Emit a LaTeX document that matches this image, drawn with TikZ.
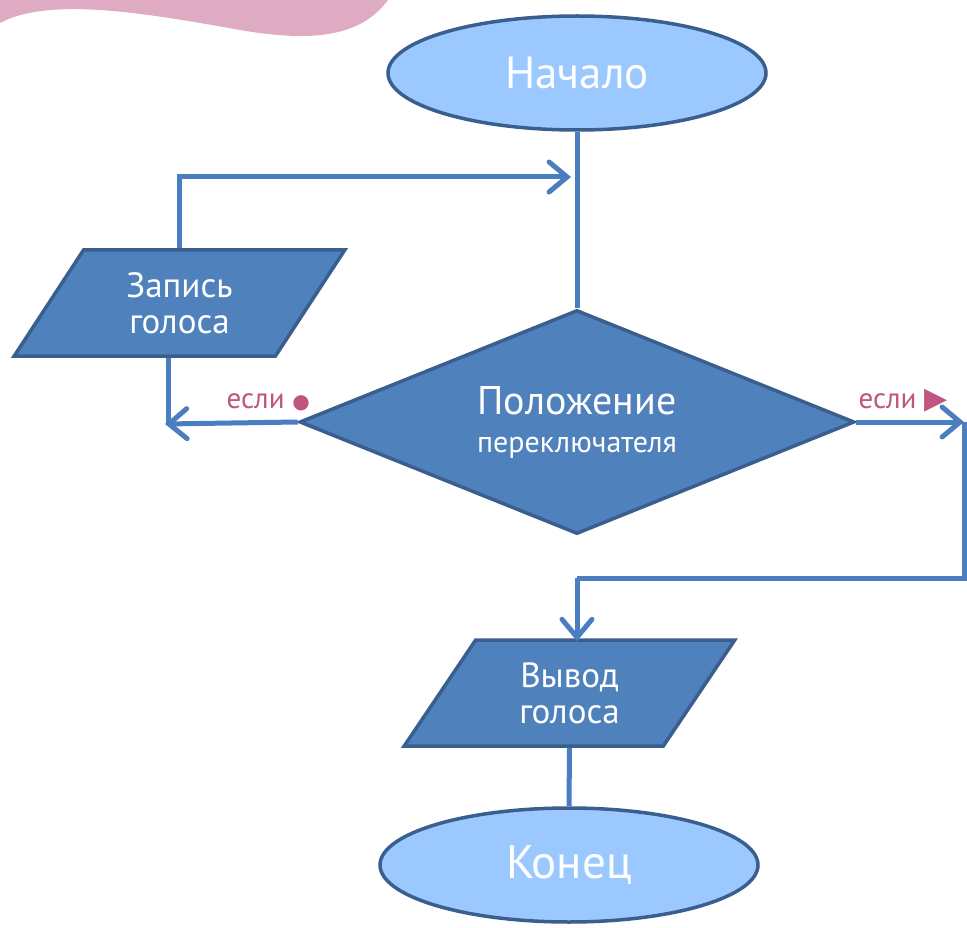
\documentclass[tikz,border=0pt]{standalone}
\usepackage{fontspec}
\setmainfont{PT Sans}
\newfontfamily\symfont{DejaVu Sans}
\usepackage{tikz}
\usetikzlibrary{calc, positioning, arrows.meta, shapes.geometric}
\usepackage{xcolor}
\definecolor{flowlight}{RGB}{155,201,255}
\definecolor{flowdark}{RGB}{79,129,189}
\definecolor{flowedge}{RGB}{58,95,142}
\definecolor{flowline}{RGB}{74,126,192}
\definecolor{flowpink}{RGB}{223,171,194}
\definecolor{flowlabel}{RGB}{192,85,127}
\tikzset{
    termbox/.style={ellipse, draw=flowedge, line width=3.5pt, fill=flowlight, minimum width=378pt, minimum height=114pt, inner sep=0pt, text=white},
    iobox/.style={trapezium, trapezium left angle=58, trapezium right angle=122, trapezium stretches=true, draw=flowedge, line width=3.5pt, fill=flowdark, minimum width=331pt, minimum height=106pt, inner sep=0pt, align=center, text=white, font=\fontsize{35}{36}\selectfont},
    decisionbox/.style={diamond, draw=flowedge, line width=3.5pt, fill=flowdark, minimum width=555pt, minimum height=224pt, inner sep=0pt, aspect=2.5, align=center, text=white},
    connector/.style={line width=5pt, draw=flowline},
    flowarrow/.style={-{Straight Barb[length=18pt, width=30pt, line cap=round]}, line width=5pt, draw=flowline},
    note/.style={text=flowlabel, font=\fontsize{29}{30}\selectfont, inner sep=0pt}
}
\begin{document}
\begin{tikzpicture}[x=1pt,y=-1pt]
            \useasboundingbox (0,0) rectangle (967,928);
            % decoration in the corner
            \fill[flowpink] (0,0) -- (388,0) .. controls (360,38) and (310,42) .. (240,30)
                .. controls (150,14) and (50,-4) .. (0,23) -- cycle;
            \node[termbox, font=\fontsize{45}{48}\selectfont] (start) at (577,73) {Начало};
            \node[decisionbox, font=\fontsize{40}{40}\selectfont] (dec) at (577,422) {Положение\\[-2pt]{\fontsize{30}{30}\selectfont переключателя}};
            \node[iobox] (rec) at (179.5,303) {Запись\\голоса};
            \node[iobox] (out) at (569.5,693) {Вывод\\голоса};
            \node[termbox, font=\fontsize{47}{50}\selectfont] (end) at (569,865) {Конец};
            \node[note, anchor=east] (ifdot) at (310,402) {если {\symfont\fontsize{20}{20}\selectfont ●}};
            \node[note] (ifplay) at (903,401) {если {\symfont\fontsize{30}{30}\selectfont ▶}};
            \coordinate (join) at (571,177);
            \coordinate (recleft) at (168,424);
            \coordinate (rightend) at (964,422);
            \coordinate (turn) at (577,578);
            \draw[connector] (start.south) -- (dec.north);
            \draw[flowarrow] (rec.north) |- (join);
            \draw[connector] (rec.south -| recleft) -- (recleft);
            \draw[flowarrow] (dec.west) -- ([xshift=-3pt]recleft);
            \draw[flowarrow] (dec.east) -- (rightend);
            \draw[connector] (rightend) |- (turn);
            \draw[flowarrow] (turn) -- ([yshift=-3pt]out.north -| turn);
            \draw[connector] (out.south) -- (end.north);
        \end{tikzpicture}
\end{document}
